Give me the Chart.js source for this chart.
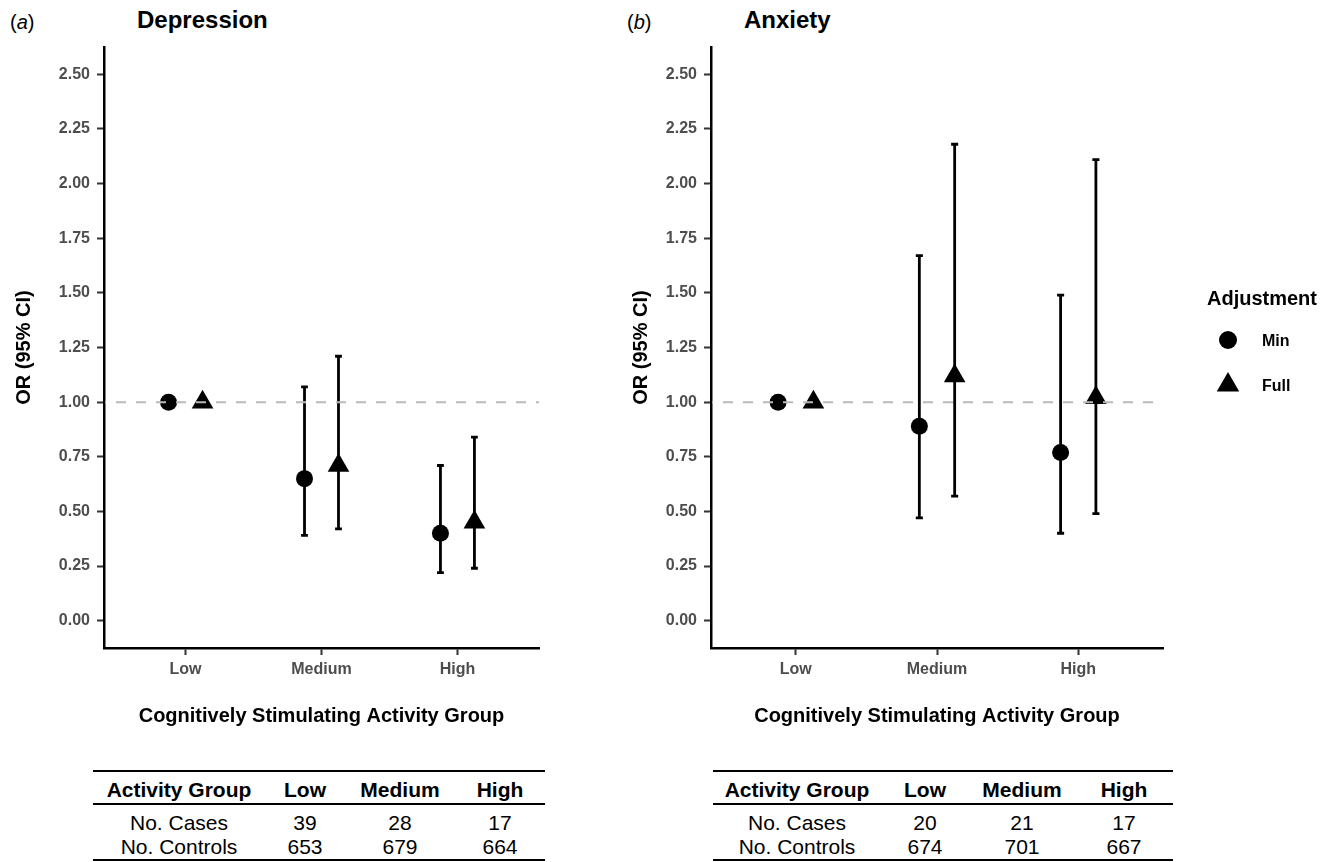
<!DOCTYPE html>
<html>
<head>
<meta charset="utf-8">
<script src="https://cdn.jsdelivr.net/npm/chart.js@4.4.1/dist/chart.umd.min.js"></script>
<style>
  html, body { margin: 0; padding: 0; background: #fff; }
  body { width: 1332px; height: 862px; position: relative; overflow: hidden;
         font-family: "Liberation Sans", Arial, sans-serif; color: #000; }
  canvas { position: absolute; top: 0; }
  .tag { position: absolute; top: 12px; font-size: 20px; line-height: 1; }
  .title { position: absolute; top: 8px; font-size: 24px; font-weight: bold; line-height: 1; }
  .tbl { position: absolute; top: 770px; font-size: 21px; line-height: 1; }
  .row { display: flex; align-items: center; }
  .row div { text-align: center; }
  .row.hdr { border-top: 2px solid #000; border-bottom: 2px solid #000; height: 27px; padding-top: 4px; font-weight: bold; }
  .row.r1 { height: 24px; padding-top: 5px; }
  .row.r2 { height: 25px; border-bottom: 2px solid #000; }
</style>
</head>
<body>
<div class="tag" style="left:10px">(<i>a</i>)</div>
<div class="title" style="left:137px">Depression</div>
<div class="tag" style="left:627px">(<i>b</i>)</div>
<div class="title" style="left:744px">Anxiety</div>

<canvas id="depChart" width="600" height="728" style="left:0"></canvas>
<canvas id="anxChart" width="732" height="728" style="left:600px"></canvas>

<div id="depTable" class="tbl" style="left:93px"></div>
<div id="anxTable" class="tbl" style="left:713px"></div>

<script>
// data
const groups = ['Low', 'Medium', 'High'];
const yTicks = [0, 0.25, 0.5, 0.75, 1, 1.25, 1.5, 1.75, 2, 2.25, 2.5];

const depMinOR = [1.00, 0.65, 0.40];
const depMinLo = [1.00, 0.39, 0.22];
const depMinHi = [1.00, 1.07, 0.71];
const depFullOR = [1.00, 0.71, 0.45];
const depFullLo = [1.00, 0.42, 0.24];
const depFullHi = [1.00, 1.21, 0.84];

const anxMinOR = [1.00, 0.89, 0.77];
const anxMinLo = [1.00, 0.47, 0.40];
const anxMinHi = [1.00, 1.67, 1.49];
const anxFullOR = [1.00, 1.12, 1.02];
const anxFullLo = [1.00, 0.57, 0.49];
const anxFullHi = [1.00, 2.18, 2.11];

const tableHead = ['Activity Group', 'Low', 'Medium', 'High'];
const depCases = [39, 28, 17];
const depControls = [653, 679, 664];
const anxCases = [20, 21, 17];
const anxControls = [674, 701, 667];

const FONT = '"Liberation Sans", Arial, sans-serif';
const DODGE = 0.125;   // half of the dodge width
const CAP = 0.05;      // error bar cap width, in category units
const REF = 1;

function points(or, lo, hi, shift) {
  return or.map((v, i) => ({ x: i + 1 + shift, y: v, lo: lo[i], hi: hi[i] }));
}

const errorBars = {
  id: 'errorBars',
  beforeDatasetsDraw(chart) {
    const { ctx, scales: { x, y } } = chart;
    const half = x.getPixelForValue(1 + CAP / 2) - x.getPixelForValue(1);
    ctx.save();
    ctx.strokeStyle = '#000';
    ctx.lineWidth = 2.8;
    chart.data.datasets.forEach(ds => ds.data.forEach(p => {
      const px = x.getPixelForValue(p.x);
      const top = y.getPixelForValue(p.hi);
      const bot = y.getPixelForValue(p.lo);
      ctx.beginPath();
      ctx.moveTo(px, top); ctx.lineTo(px, bot);
      ctx.moveTo(px - half, top); ctx.lineTo(px + half, top);
      ctx.moveTo(px - half, bot); ctx.lineTo(px + half, bot);
      ctx.stroke();
    }));
    ctx.restore();
  }
};

const refLine = {
  id: 'refLine',
  afterDatasetsDraw(chart) {
    const { ctx, chartArea, scales: { y } } = chart;
    const py = y.getPixelForValue(REF);
    ctx.save();
    ctx.strokeStyle = '#bababa';
    ctx.lineWidth = 2;
    ctx.setLineDash([10, 10]);
    ctx.lineDashOffset = 9;
    ctx.beginPath();
    ctx.moveTo(chartArea.left + 1, py);
    ctx.lineTo(chartArea.right, py);
    ctx.stroke();
    ctx.restore();
  }
};

// legend drawn beside panel b, keys use the datasets' own point styles
const legendKey = {
  id: 'legendKey',
  afterDraw(chart, args, opts) {
    if (!opts.show) return;
    const ctx = chart.ctx;
    ctx.save();
    ctx.fillStyle = '#000';
    ctx.textBaseline = 'alphabetic';
    ctx.font = 'bold 20px ' + FONT;
    ctx.fillText(opts.title, opts.titleX, opts.titleY);
    ctx.font = 'bold 16px ' + FONT;
    chart.data.datasets.forEach((ds, i) => {
      const cy = opts.firstY + i * opts.gap;
      Chart.helpers.drawPoint(ctx, { pointStyle: ds.pointStyle, radius: ds.pointRadius + 0.5, borderWidth: 0, rotation: 0 }, opts.keyX, cy);
      ctx.fillText(ds.label, opts.textX, cy + 6);
    });
    ctx.restore();
  }
};

const tickFont = { family: FONT, size: 16, weight: 'bold' };
const titleFont = { family: FONT, size: 20, weight: 'bold' };
const grid = { display: true, drawOnChartArea: false, drawTicks: true, tickLength: 7, tickWidth: 2, tickColor: '#333' };
const border = { display: true, color: '#000', width: 2.5 };

function makeChart(id, minOR, minLo, minHi, fullOR, fullLo, fullHi, padding, yWidth, legendOpts) {
  return new Chart(document.getElementById(id), {
    type: 'scatter',
    data: {
      datasets: [
        { label: 'Min', data: points(minOR, minLo, minHi, -DODGE), pointStyle: 'circle', pointRadius: 8.5,
          pointBackgroundColor: '#000', pointBorderWidth: 0, pointHoverRadius: 8.5 },
        { label: 'Full', data: points(fullOR, fullLo, fullHi, DODGE), pointStyle: 'triangle', pointRadius: 12.5,
          pointBackgroundColor: '#000', pointBorderWidth: 0, pointHoverRadius: 12.5 }
      ]
    },
    options: {
      responsive: false,
      animation: false,
      events: [],
      layout: { padding },
      plugins: {
        legend: { display: false },
        tooltip: { enabled: false },
        legendKey: legendOpts
      },
      scales: {
        x: {
          type: 'linear', min: 0.4, max: 3.6,
          afterBuildTicks: s => { s.ticks = groups.map((g, i) => ({ value: i + 1 })); },
          afterFit: s => { s.height = 80; },
          ticks: { callback: v => groups[v - 1], font: tickFont, color: '#4d4d4d', padding: 5, autoSkip: false, maxRotation: 0 },
          title: { display: true, text: 'Cognitively Stimulating Activity Group', font: titleFont, color: '#000', padding: { top: 0, bottom: 0 } },
          grid, border
        },
        y: {
          type: 'linear', min: -0.125, max: 2.625,
          afterBuildTicks: s => { s.ticks = yTicks.map(v => ({ value: v })); },
          afterFit: s => { s.width = yWidth; },
          ticks: { callback: v => v.toFixed(2), font: tickFont, color: '#4d4d4d', padding: 7, autoSkip: false },
          title: { display: true, text: 'OR (95% CI)', font: titleFont, color: '#000', padding: { top: 4, bottom: 0 } },
          grid, border
        }
      }
    },
    plugins: [errorBars, refLine, legendKey]
  });
}

makeChart('depChart', depMinOR, depMinLo, depMinHi, depFullOR, depFullLo, depFullHi,
  { left: 8, right: 61, top: 47, bottom: 0 }, 96, { show: false });

makeChart('anxChart', anxMinOR, anxMinLo, anxMinHi, anxFullOR, anxFullLo, anxFullHi,
  { left: 25, right: 169, top: 47, bottom: 0 }, 86,
  { show: true, title: 'Adjustment', titleX: 607, titleY: 305, keyX: 628, textX: 662, firstY: 340, gap: 45 });

function buildTable(id, widths, cases, controls) {
  const el = document.getElementById(id);
  const rows = [
    ['hdr', tableHead],
    ['r1', ['No. Cases'].concat(cases)],
    ['r2', ['No. Controls'].concat(controls)]
  ];
  rows.forEach(([cls, cells]) => {
    const row = document.createElement('div');
    row.className = 'row ' + cls;
    cells.forEach((c, i) => {
      const cell = document.createElement('div');
      cell.style.width = widths[i] + 'px';
      cell.textContent = c;
      row.appendChild(cell);
    });
    el.appendChild(row);
  });
}

buildTable('depTable', [172, 80, 110, 90], depCases, depControls);
buildTable('anxTable', [168, 88, 106, 98], anxCases, anxControls);
</script>
</body>
</html>
